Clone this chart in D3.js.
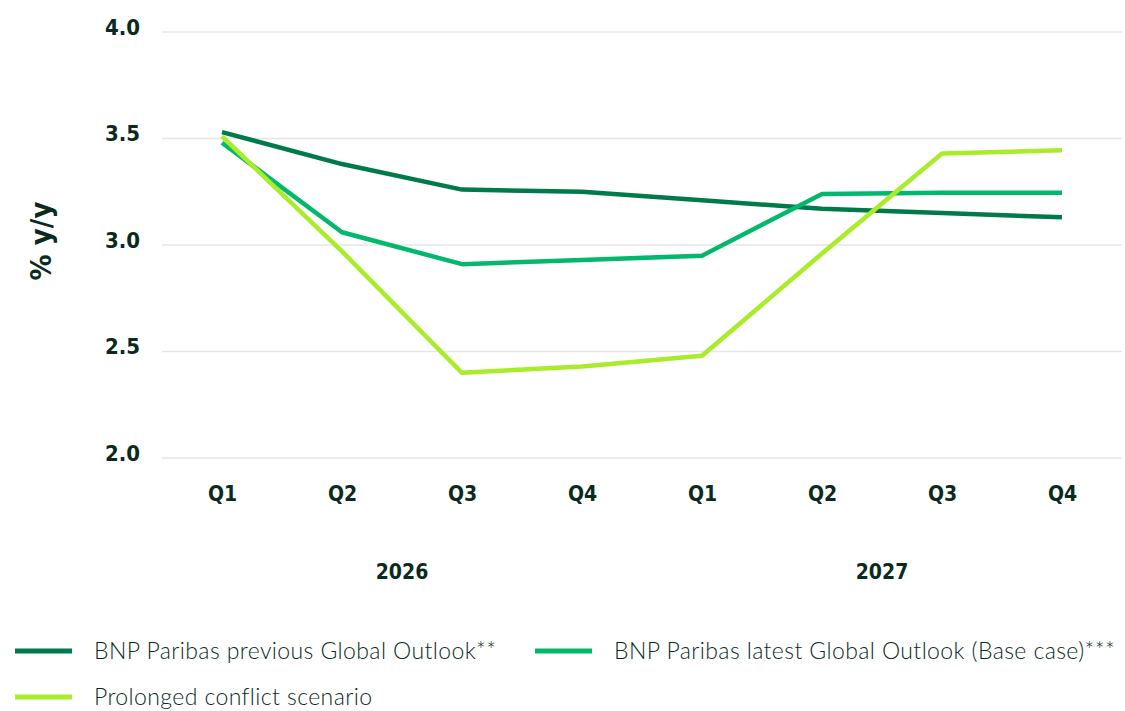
<!DOCTYPE html>
<html>
<head>
<meta charset="utf-8">
<script src="https://cdn.jsdelivr.net/npm/d3@7/dist/d3.min.js"></script>
<style>
  html, body { margin: 0; padding: 0; background: #fff; }
  svg { display: block; }
  .tick-label { font-family: "Liberation Sans Narrow", "DejaVu Sans Condensed", sans-serif; font-weight: bold; fill: #0b2a1e; }
  .legend-text { font-family: "Lato", "Open Sans", sans-serif; font-weight: 300; fill: #0b2a1e; }
</style>
</head>
<body>
<svg id="chart" width="1125" height="711"></svg>
<script>
// Quarterly GDP growth forecasts, % y/y
const quarters = ["Q1", "Q2", "Q3", "Q4", "Q1", "Q2", "Q3", "Q4"];
const years = [{ label: "2026", from: 0, to: 3 }, { label: "2027", from: 4, to: 7 }];
const previousOutlook = [3.53, 3.38, 3.26, 3.25, 3.21, 3.17, 3.15, 3.13];
const latestOutlook   = [3.48, 3.06, 2.91, 2.93, 2.95, 3.24, 3.245, 3.245];
const conflictScenario = [3.51, 2.97, 2.40, 2.43, 2.48, 2.96, 3.43, 3.445];
const yTicks = [2.0, 2.5, 3.0, 3.5, 4.0];

const series = [
  { name: "BNP Paribas previous Global Outlook**", values: previousOutlook, color: "#007a4b" },
  { name: "BNP Paribas latest Global Outlook (Base case)***", values: latestOutlook, color: "#03b86c" },
  { name: "Prolonged conflict scenario", values: conflictScenario, color: "#a8ec2a" }
];

const svg = d3.select("#chart");

const x = d3.scaleLinear().domain([0, quarters.length - 1]).range([222, 1062]);
const y = d3.scaleLinear().domain([2.0, 4.0]).range([458, 32]);

// Horizontal gridlines
svg.append("g")
  .selectAll("line")
  .data(yTicks)
  .join("line")
  .attr("x1", 162).attr("x2", 1122)
  .attr("y1", d => y(d)).attr("y2", d => y(d))
  .attr("stroke", "#e6e6e6").attr("stroke-width", 1.5);

// Y axis labels
const yAxis = svg.append("g")
  .attr("transform", "translate(140,0)")
  .call(d3.axisLeft(y).tickValues(yTicks).tickFormat(d3.format(".1f")).tickSize(0).tickPadding(0));
yAxis.select(".domain").remove();
yAxis.selectAll("text")
  .attr("class", "tick-label")
  .attr("font-size", 22)
  .attr("dy", "0.1em");

// Y axis title
svg.append("text")
  .attr("class", "tick-label")
  .attr("transform", `translate(51,${(y(2.0) + y(4.0)) / 2 - 4}) rotate(-90)`)
  .attr("text-anchor", "middle")
  .attr("font-size", 29)
  .text("% y/y");

// X axis quarter labels
const xAxis = svg.append("g")
  .attr("transform", "translate(0,486)")
  .call(d3.axisBottom(x).tickValues(d3.range(quarters.length)).tickFormat(i => quarters[i]).tickSize(0).tickPadding(0));
xAxis.select(".domain").remove();
xAxis.selectAll("text")
  .attr("class", "tick-label")
  .attr("font-size", 21)
  .attr("dy", "0.7em");

// Year labels centred under their quarters
svg.append("g")
  .selectAll("text")
  .data(years)
  .join("text")
  .attr("class", "tick-label")
  .attr("x", d => (x(d.from) + x(d.to)) / 2)
  .attr("y", 579)
  .attr("text-anchor", "middle")
  .attr("font-size", 21)
  .text(d => d.label);

// Series lines
const line = d3.line().x((d, i) => x(i)).y(d => y(d));
svg.append("g")
  .selectAll("path")
  .data(series)
  .join("path")
  .attr("d", d => line(d.values))
  .attr("fill", "none")
  .attr("stroke", d => d.color)
  .attr("stroke-width", 4.5)
  .attr("stroke-linejoin", "round");

// Legend
const legendPos = [
  { x: 15, y: 651 },
  { x: 535, y: 651 },
  { x: 15, y: 697 }
];
const legend = svg.append("g")
  .selectAll("g")
  .data(series)
  .join("g")
  .attr("transform", (d, i) => `translate(${legendPos[i].x},${legendPos[i].y})`);
legend.append("line")
  .attr("x1", 0).attr("x2", 57)
  .attr("stroke", d => d.color)
  .attr("stroke-width", 5);
legend.append("text")
  .attr("class", "legend-text")
  .attr("x", 79)
  .attr("dy", "0.35em")
  .attr("font-size", 23)
  .attr("letter-spacing", 0.4)
  .text(d => d.name);
</script>
</body>
</html>
